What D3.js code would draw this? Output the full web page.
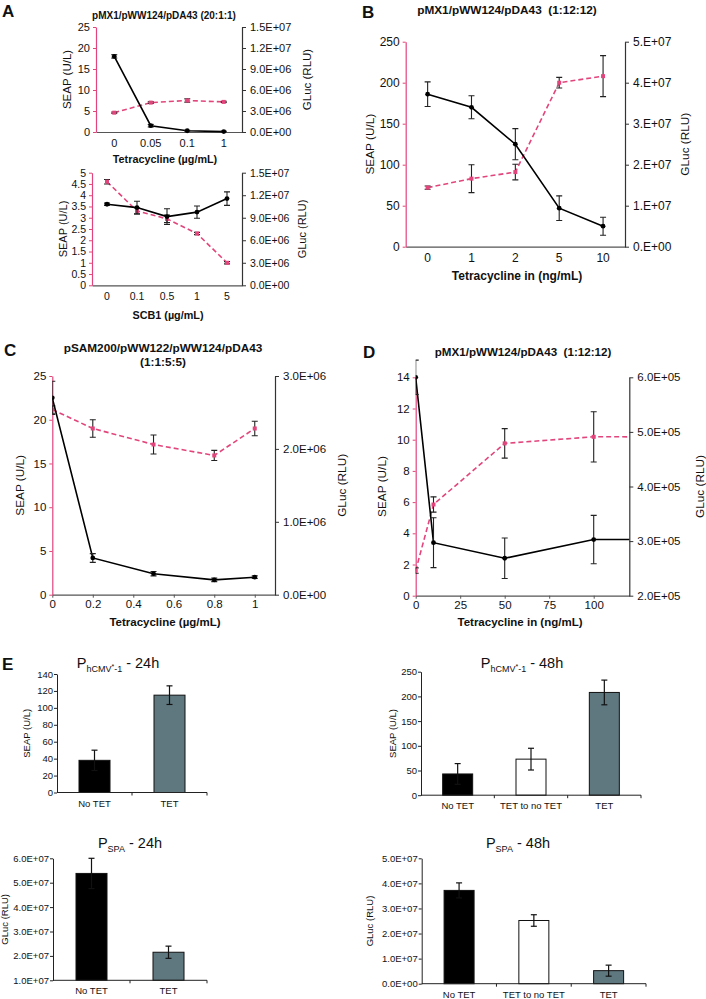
<!DOCTYPE html>
<html>
<head>
<meta charset="utf-8">
<script src="https://cdnjs.cloudflare.com/ajax/libs/d3/7.8.5/d3.min.js"></script>
<style>
body { margin: 0; background: #fff; }
text { font-family: "Liberation Sans", Arial, sans-serif; fill: #111; }
</style>
</head>
<body>
<div id="canvas"></div>
<script>
// ---- data ----
// A (top): tetracycline dose response
var aTopDose = ["0", "0.05", "0.1", "1"];
var aTopSeap = [18, 1.5, 0.3, 0.1];
var aTopSeapErr = [0.4, 0.3, 0.1, 0.1];
var aTopGluc = [2.76e6, 4.2e6, 4.5e6, 4.3e6];
var aTopGlucErr = [0.9e5, 1.2e5, 2.4e5, 0.9e5];
var aTopLeftTicks = [0, 5, 10, 15, 20, 25];
var aTopRightTicks = [0, 3e6, 6e6, 9e6, 1.2e7, 1.5e7];

// A (bottom): SCB1 dose response
var aBotDose = ["0", "0.1", "0.5", "1", "5"];
var aBotSeap = [3.6, 3.45, 3.05, 3.25, 3.85];
var aBotSeapErr = [0.05, 0.28, 0.35, 0.27, 0.3];
var aBotGluc = [1.38e7, 9.9e6, 8.85e6, 6.9e6, 3.0e6];
var aBotGlucErr = [3e5, 4e5, 5e5, 1.5e5, 1.5e5];
var aBotLeftTicks = [0, 0.5, 1, 1.5, 2, 2.5, 3, 3.5, 4, 4.5, 5];
var aBotRightTicks = [0, 3e6, 6e6, 9e6, 1.2e7, 1.5e7];

// B
var bDose = ["0", "1", "2", "5", "10"];
var bSeap = [186, 170, 125, 47, 25];
var bSeapErr = [15, 14, 19, 15, 11];
var bGluc = [1.44e7, 1.66e7, 1.82e7, 4.0e7, 4.16e7];
var bGlucErr = [4e5, 3.4e6, 1.9e6, 1.3e6, 5e6];
var bLeftTicks = [0, 50, 100, 150, 200, 250];
var bRightTicks = [0, 1e7, 2e7, 3e7, 4e7, 5e7];

// C
var cDose = [0, 0.2, 0.5, 0.8, 1];
var cSeap = [22.5, 4.2, 2.4, 1.7, 2.0];
var cSeapErr = [1.9, 0.5, 0.25, 0.2, 0.15];
var cGluc = [2.54e6, 2.28e6, 2.06e6, 1.91e6, 2.28e6];
var cGlucErr = [5e4, 1.2e5, 1.3e5, 7e4, 1e5];
var cDoseTicks = [0, 0.2, 0.4, 0.6, 0.8, 1];
var cLeftTicks = [0, 5, 10, 15, 20, 25];
var cRightTicks = [0, 1e6, 2e6, 3e6];

// D (last point lies past the axis end and is clipped)
var dDose = [0, 10, 50, 100, 1000];
var dSeap = [14, 3.4, 2.4, 3.6, 3.6];
var dSeapErr = [1.1, 1.6, 1.3, 1.55, 0];
var dGluc = [2.46e5, 3.67e5, 4.79e5, 4.91e5, 4.9e5];
var dGlucErr = [5e3, 1.4e4, 2.7e4, 4.6e4, 0];
var dDoseTicks = [0, 25, 50, 75, 100];
var dLeftTicks = [0, 2, 4, 6, 8, 10, 12, 14];
var dRightTicks = [2e5, 3e5, 4e5, 5e5, 6e5];

// E bars
var e1Groups = ["No TET", "TET"];
var e1Seap = [38, 115];
var e1Err = [12, 11];
var e1Ticks = [0, 20, 40, 60, 80, 100, 120, 140];

var e2Groups = ["No TET", "TET to no TET", "TET"];
var e2Seap = [43, 73, 208];
var e2Err = [21, 22, 25];
var e2Ticks = [0, 50, 100, 150, 200, 250];

var e3Groups = ["No TET", "TET"];
var e3Gluc = [5.38e7, 2.15e7];
var e3Err = [0.62e7, 0.25e7];
var e3Ticks = [1e7, 2e7, 3e7, 4e7, 5e7, 6e7];

var e4Groups = ["No TET", "TET to no TET", "TET"];
var e4Gluc = [3.72e7, 2.52e7, 0.52e7];
var e4Err = [0.3e7, 0.23e7, 0.22e7];
var e4Ticks = [0, 1e7, 2e7, 3e7, 4e7, 5e7];

var pink = "#e2457c";
var barFill = {"No TET": "#000", "TET to no TET": "#fff", "TET": "#5f7880"};

// Excel style exponent labels, e.g. 1.5E+07 or 5.E+07
function sci(dec) {
    return function(v) {
        var m = 0, e = 0;
        if (v !== 0) {
            e = Math.floor(Math.log10(v) + 1e-9);
            m = v / Math.pow(10, e);
        }
        var s = dec ? m.toFixed(dec) : m.toFixed(0) + ".";
        return s + "E+" + (e < 10 ? "0" : "") + e;
    };
}

var svg = d3.select('#canvas')
    .append('svg')
    .attr('width', 706)
    .attr('height', 999);

function styleAxis(ga, col, fs) {
    ga.select('.domain').attr('stroke', col).attr('stroke-width', 1.2);
    ga.selectAll('.tick line').attr('stroke', col);
    ga.selectAll('.tick text').style('font-size', fs + 'px').attr('fill', '#111');
}

function linePanel(o) {
    var g = svg.append('g');
    var band = !!o.cats;
    var x = band ? d3.scaleBand().domain(o.cats).range([o.l, o.r])
                 : d3.scaleLinear().domain(o.xDomain).range([o.l, o.r]);
    var px = function(i) { return band ? x(o.cats[i]) + x.bandwidth() / 2 : x(o.xs[i]); };
    var yL = d3.scaleLinear().domain(o.leftDomain).range([o.b, o.t]);
    var yR = d3.scaleLinear().domain(o.rightDomain).range([o.b, o.t]);

    var xAxis = band ? d3.axisBottom(x).tickSize(0).tickSizeOuter(0).tickPadding(7)
                     : d3.axisBottom(x).tickValues(o.xTicks).tickSize(3).tickSizeOuter(0).tickPadding(2).tickFormat(d3.format(''));
    var gx = g.append('g').attr('transform', 'translate(0,' + o.b + ')').call(xAxis);
    styleAxis(gx, '#555', o.fs);

    var gl = g.append('g').attr('transform', 'translate(' + o.l + ',0)')
        .call(d3.axisLeft(yL).tickValues(o.leftTicks).tickSize(3).tickSizeOuter(0).tickPadding(3).tickFormat(d3.format('')));
    styleAxis(gl, pink, o.fs);

    var gr = g.append('g').attr('transform', 'translate(' + o.r + ',0)')
        .call(d3.axisRight(yR).tickValues(o.rightTicks).tickSize(4).tickSizeOuter(0).tickPadding(4).tickFormat(sci(o.rightDec)));
    styleAxis(gr, '#333', o.fs);

    var clipId = 'clip' + o.id;
    g.append('clipPath').attr('id', clipId).append('rect')
        .attr('x', o.l).attr('y', o.t - 20).attr('width', o.r - o.l).attr('height', o.b - o.t + 40);
    var plot = g.append('g').attr('clip-path', 'url(#' + clipId + ')');

    function series(vals, errs, y, col, dash, square) {
        var line = d3.line().x(function(d, i) { return px(i); }).y(function(d) { return y(d); });
        plot.append('path').datum(vals).attr('d', line)
            .attr('fill', 'none').attr('stroke', col).attr('stroke-width', 1.6)
            .attr('stroke-dasharray', dash);
        vals.forEach(function(v, i) {
            var cx = px(i), e = errs[i];
            if (e > 0) {
                plot.append('line').attr('x1', cx).attr('x2', cx).attr('y1', y(v - e)).attr('y2', y(v + e))
                    .attr('stroke', '#222').attr('stroke-width', 1.1);
                [v - e, v + e].forEach(function(w) {
                    plot.append('line').attr('x1', cx - 3).attr('x2', cx + 3).attr('y1', y(w)).attr('y2', y(w))
                        .attr('stroke', '#222').attr('stroke-width', 1.1);
                });
            }
            if (square) {
                plot.append('rect').attr('x', cx - 2).attr('y', y(v) - 2).attr('width', 4).attr('height', 4).attr('fill', col);
            } else {
                plot.append('circle').attr('cx', cx).attr('cy', y(v)).attr('r', 2.4).attr('fill', col);
            }
        });
    }
    series(o.gluc, o.glucErr, yR, pink, '5,3', true);
    series(o.seap, o.seapErr, yL, '#000', null, false);

    var my = (o.t + o.b) / 2;
    g.append('text').attr('transform', 'translate(' + o.ylx + ',' + my + ') rotate(-90)')
        .attr('text-anchor', 'middle').attr('dy', '0.35em').style('font-size', o.lfs + 'px').text('SEAP (U/L)');
    g.append('text').attr('transform', 'translate(' + o.yrx + ',' + my + ') rotate(-90)')
        .attr('text-anchor', 'middle').attr('dy', '0.35em').style('font-size', o.lfs + 'px').text('GLuc (RLU)');
    if (o.xlabel) {
        g.append('text').attr('x', o.xlx).attr('y', o.xly).attr('text-anchor', 'middle')
            .style('font-size', o.xfs + 'px').style('font-weight', 'bold').text(o.xlabel);
    }
}

function barPanel(o) {
    var g = svg.append('g');
    var x = d3.scaleBand().domain(o.groups).range([o.l, o.r]);
    var y = d3.scaleLinear().domain(o.domain).range([o.b, o.t]);
    var cx = function(k) { return x(k) + x.bandwidth() / 2; };

    g.selectAll('.bar').data(o.vals).enter().append('rect')
        .attr('x', function(d, i) { return cx(o.groups[i]) - o.bw / 2; })
        .attr('y', function(d) { return y(d); })
        .attr('width', o.bw)
        .attr('height', function(d) { return o.b - y(d); })
        .attr('fill', function(d, i) { return barFill[o.groups[i]]; })
        .attr('stroke', '#111').attr('stroke-width', 1);

    o.vals.forEach(function(v, i) {
        var c = cx(o.groups[i]), e = o.errs[i];
        g.append('line').attr('x1', c).attr('x2', c).attr('y1', y(v - e)).attr('y2', y(v + e))
            .attr('stroke', '#111').attr('stroke-width', 1.2);
        [v - e, v + e].forEach(function(w) {
            g.append('line').attr('x1', c - 3).attr('x2', c + 3).attr('y1', y(w)).attr('y2', y(w))
                .attr('stroke', '#111').attr('stroke-width', 1.2);
        });
    });

    var gy = g.append('g').attr('transform', 'translate(' + o.l + ',0)')
        .call(d3.axisLeft(y).tickValues(o.ticks).tickSize(3).tickSizeOuter(0).tickPadding(1).tickFormat(o.fmt));
    styleAxis(gy, '#222', 9.5);
    gy.select('.domain').attr('stroke-width', 1);

    g.append('line').attr('x1', o.l).attr('x2', o.r).attr('y1', o.b).attr('y2', o.b)
        .attr('stroke', '#222').attr('stroke-width', 1);
    o.groups.forEach(function(k) {
        var tx = x(k) + x.bandwidth();
        g.append('line').attr('x1', tx).attr('x2', tx).attr('y1', o.b).attr('y2', o.b + 3).attr('stroke', '#222');
        g.append('text').attr('x', cx(k)).attr('y', o.b + 14).attr('text-anchor', 'middle')
            .style('font-size', '9.5px').text(k);
    });

    g.append('text').attr('transform', 'translate(' + o.ylx + ',' + ((o.t + o.b) / 2) + ') rotate(-90)')
        .attr('text-anchor', 'middle').attr('dy', '0.35em').style('font-size', '9.5px').text(o.ylabel);

    // title with subscript
    var t = g.append('text').attr('x', o.tx).attr('y', o.ty).attr('text-anchor', 'middle').style('font-size', '14.5px');
    t.append('tspan').text('P');
    t.append('tspan').attr('dy', 4).style('font-size', '9px').text(o.sub);
    if (o.star) {
        t.append('tspan').attr('dy', -3).style('font-size', '7px').text('*');
        t.append('tspan').attr('dy', 3).style('font-size', '9px').text('-1');
    }
    t.append('tspan').attr('dy', -4).text(' - ' + o.hours);
}

// ---- panel letters and titles ----
[['A', 2, 17], ['B', 362, 18], ['C', 4, 356], ['D', 363, 358], ['E', 2, 670]].forEach(function(p) {
    svg.append('text').attr('x', p[1]).attr('y', p[2]).style('font-size', '17px').style('font-weight', 'bold').text(p[0]);
});
function title(txt, x, y, fs) {
    svg.append('text').attr('x', x).attr('y', y).attr('text-anchor', 'middle')
        .attr('xml:space', 'preserve')
        .style('font-size', fs + 'px').style('font-weight', 'bold').text(txt);
}
title('pMX1/pWW124/pDA43 (20:1:1)', 164, 19, 10);
title('pMX1/pWW124/pDA43  (1:12:12)', 507, 14, 11.8);
title('pSAM200/pWW122/pWW124/pDA43', 163, 352, 11.8);
title('(1:1:5:5)', 163, 366, 11.8);
title('pMX1/pWW124/pDA43  (1:12:12)', 523, 356, 11.6);

linePanel({id: 'at', l: 96, r: 242, t: 27, b: 132, cats: aTopDose,
    leftDomain: [0, 25], leftTicks: aTopLeftTicks, rightDomain: [0, 1.5e7], rightTicks: aTopRightTicks, rightDec: 1,
    seap: aTopSeap, seapErr: aTopSeapErr, gluc: aTopGluc, glucErr: aTopGlucErr,
    fs: 11, lfs: 11.5, ylx: 67, yrx: 307, xlabel: 'Tetracycline (\u00b5g/mL)', xfs: 10.8, xlx: 165, xly: 163});

linePanel({id: 'ab', l: 92, r: 242, t: 172.7, b: 285.3, cats: aBotDose,
    leftDomain: [0, 5], leftTicks: aBotLeftTicks, rightDomain: [0, 1.5e7], rightTicks: aBotRightTicks, rightDec: 1,
    seap: aBotSeap, seapErr: aBotSeapErr, gluc: aBotGluc, glucErr: aBotGlucErr,
    fs: 10.5, lfs: 11, ylx: 63, yrx: 302, xlabel: 'SCB1 (\u00b5g/mL)', xfs: 10.8, xlx: 168, xly: 319});

linePanel({id: 'b', l: 405.7, r: 625, t: 41.7, b: 246.7, cats: bDose,
    leftDomain: [0, 250], leftTicks: bLeftTicks, rightDomain: [0, 5e7], rightTicks: bRightTicks, rightDec: 0,
    seap: bSeap, seapErr: bSeapErr, gluc: bGluc, glucErr: bGlucErr,
    fs: 12, lfs: 11.8, ylx: 370, yrx: 685, xlabel: 'Tetracycline in (ng/mL)', xfs: 12, xlx: 517, xly: 280});

linePanel({id: 'c', l: 52.3, r: 275, t: 376, b: 594.7, xDomain: [0, 1.1], xs: cDose, xTicks: cDoseTicks,
    leftDomain: [0, 25], leftTicks: cLeftTicks, rightDomain: [0, 3e6], rightTicks: cRightTicks, rightDec: 1,
    seap: cSeap, seapErr: cSeapErr, gluc: cGluc, glucErr: cGlucErr,
    fs: 11.5, lfs: 11.8, ylx: 20, yrx: 342, xlabel: 'Tetracycline (\u00b5g/mL)', xfs: 11.5, xlx: 165, xly: 626});

linePanel({id: 'd', l: 415.7, r: 629.3, t: 377.3, b: 595.7, xDomain: [0, 120], xs: dDose, xTicks: dDoseTicks,
    leftDomain: [0, 14], leftTicks: dLeftTicks, rightDomain: [2e5, 6e5], rightTicks: dRightTicks, rightDec: 1,
    seap: dSeap, seapErr: dSeapErr, gluc: dGluc, glucErr: dGlucErr,
    fs: 11.5, lfs: 11.8, ylx: 382, yrx: 700, xlabel: 'Tetracycline in (ng/mL)', xfs: 11.5, xlx: 520, xly: 626});

barPanel({l: 57, r: 207, t: 674, b: 792.5, domain: [0, 140], groups: e1Groups, vals: e1Seap, errs: e1Err,
    ticks: e1Ticks, fmt: d3.format(''), bw: 31, ylx: 27, ylabel: 'SEAP (U/L)',
    tx: 118, ty: 668, sub: 'hCMV', star: true, hours: '24h'});
barPanel({l: 421, r: 641, t: 671.7, b: 795.2, domain: [0, 250], groups: e2Groups, vals: e2Seap, errs: e2Err,
    ticks: e2Ticks, fmt: d3.format(''), bw: 30, ylx: 393, ylabel: 'SEAP (U/L)',
    tx: 522, ty: 668, sub: 'hCMV', star: true, hours: '48h'});
barPanel({l: 53, r: 207, t: 858.3, b: 980.3, domain: [1e7, 6e7], groups: e3Groups, vals: e3Gluc, errs: e3Err,
    ticks: e3Ticks, fmt: sci(1), bw: 31, ylx: 5, ylabel: 'GLuc (RLU)',
    tx: 130, ty: 848, sub: 'SPA', star: false, hours: '24h'});
barPanel({l: 421.7, r: 646, t: 858.3, b: 983.7, domain: [0, 5e7], groups: e4Groups, vals: e4Gluc, errs: e4Err,
    ticks: e4Ticks, fmt: sci(1), bw: 30, ylx: 370, ylabel: 'GLuc (RLU)',
    tx: 518, ty: 848, sub: 'SPA', star: false, hours: '48h'});
</script>
</body>
</html>
